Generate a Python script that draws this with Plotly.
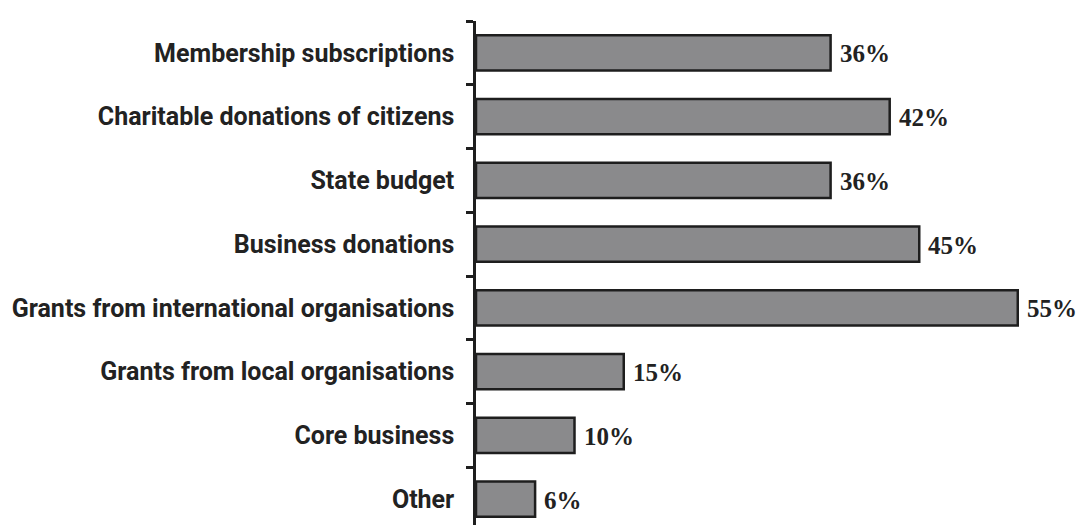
import plotly.graph_objects as go

categories = [
    "Membership subscriptions",
    "Charitable donations of citizens",
    "State budget",
    "Business donations",
    "Grants from international organisations",
    "Grants from local organisations",
    "Core business",
    "Other",
]
shares = [36, 42, 36, 45, 55, 15, 10, 6]

fig = go.Figure(
    go.Bar(
        x=shares,
        y=categories,
        orientation="h",
        width=0.55,
        marker=dict(color="#8a8a8c", line=dict(color="#1e1e1e", width=2.5)),
        hoverinfo="x+y",
    )
)

# percentage labels just past the end of each bar
for cat, v in zip(categories, shares):
    fig.add_annotation(
        x=v, y=cat, text=f"{v}%", showarrow=False,
        xanchor="left", yanchor="middle", xshift=7, yshift=-1,
        font=dict(family="Liberation Serif", size=25, color="#222222", weight="bold"),
    )

fig.update_layout(
    width=1077,
    height=525,
    margin=dict(l=476, r=10, t=21, b=0),
    paper_bgcolor="white",
    plot_bgcolor="white",
    showlegend=False,
)

fig.update_xaxes(range=[0, 60], visible=False)
fig.update_yaxes(
    type="category",
    categoryorder="array",
    categoryarray=categories,
    range=[7.406, -0.5],
    showline=True,
    linecolor="#1e1e1e",
    linewidth=2.5,
    ticks="outside",
    tickson="boundaries",
    ticklen=7,
    tickwidth=2.5,
    tickcolor="#1e1e1e",
    showgrid=False,
    ticklabelstandoff=14,
    tickfont=dict(family="Roboto", size=25, color="#222222", weight="bold"),
)

fig.write_html("out.html")
